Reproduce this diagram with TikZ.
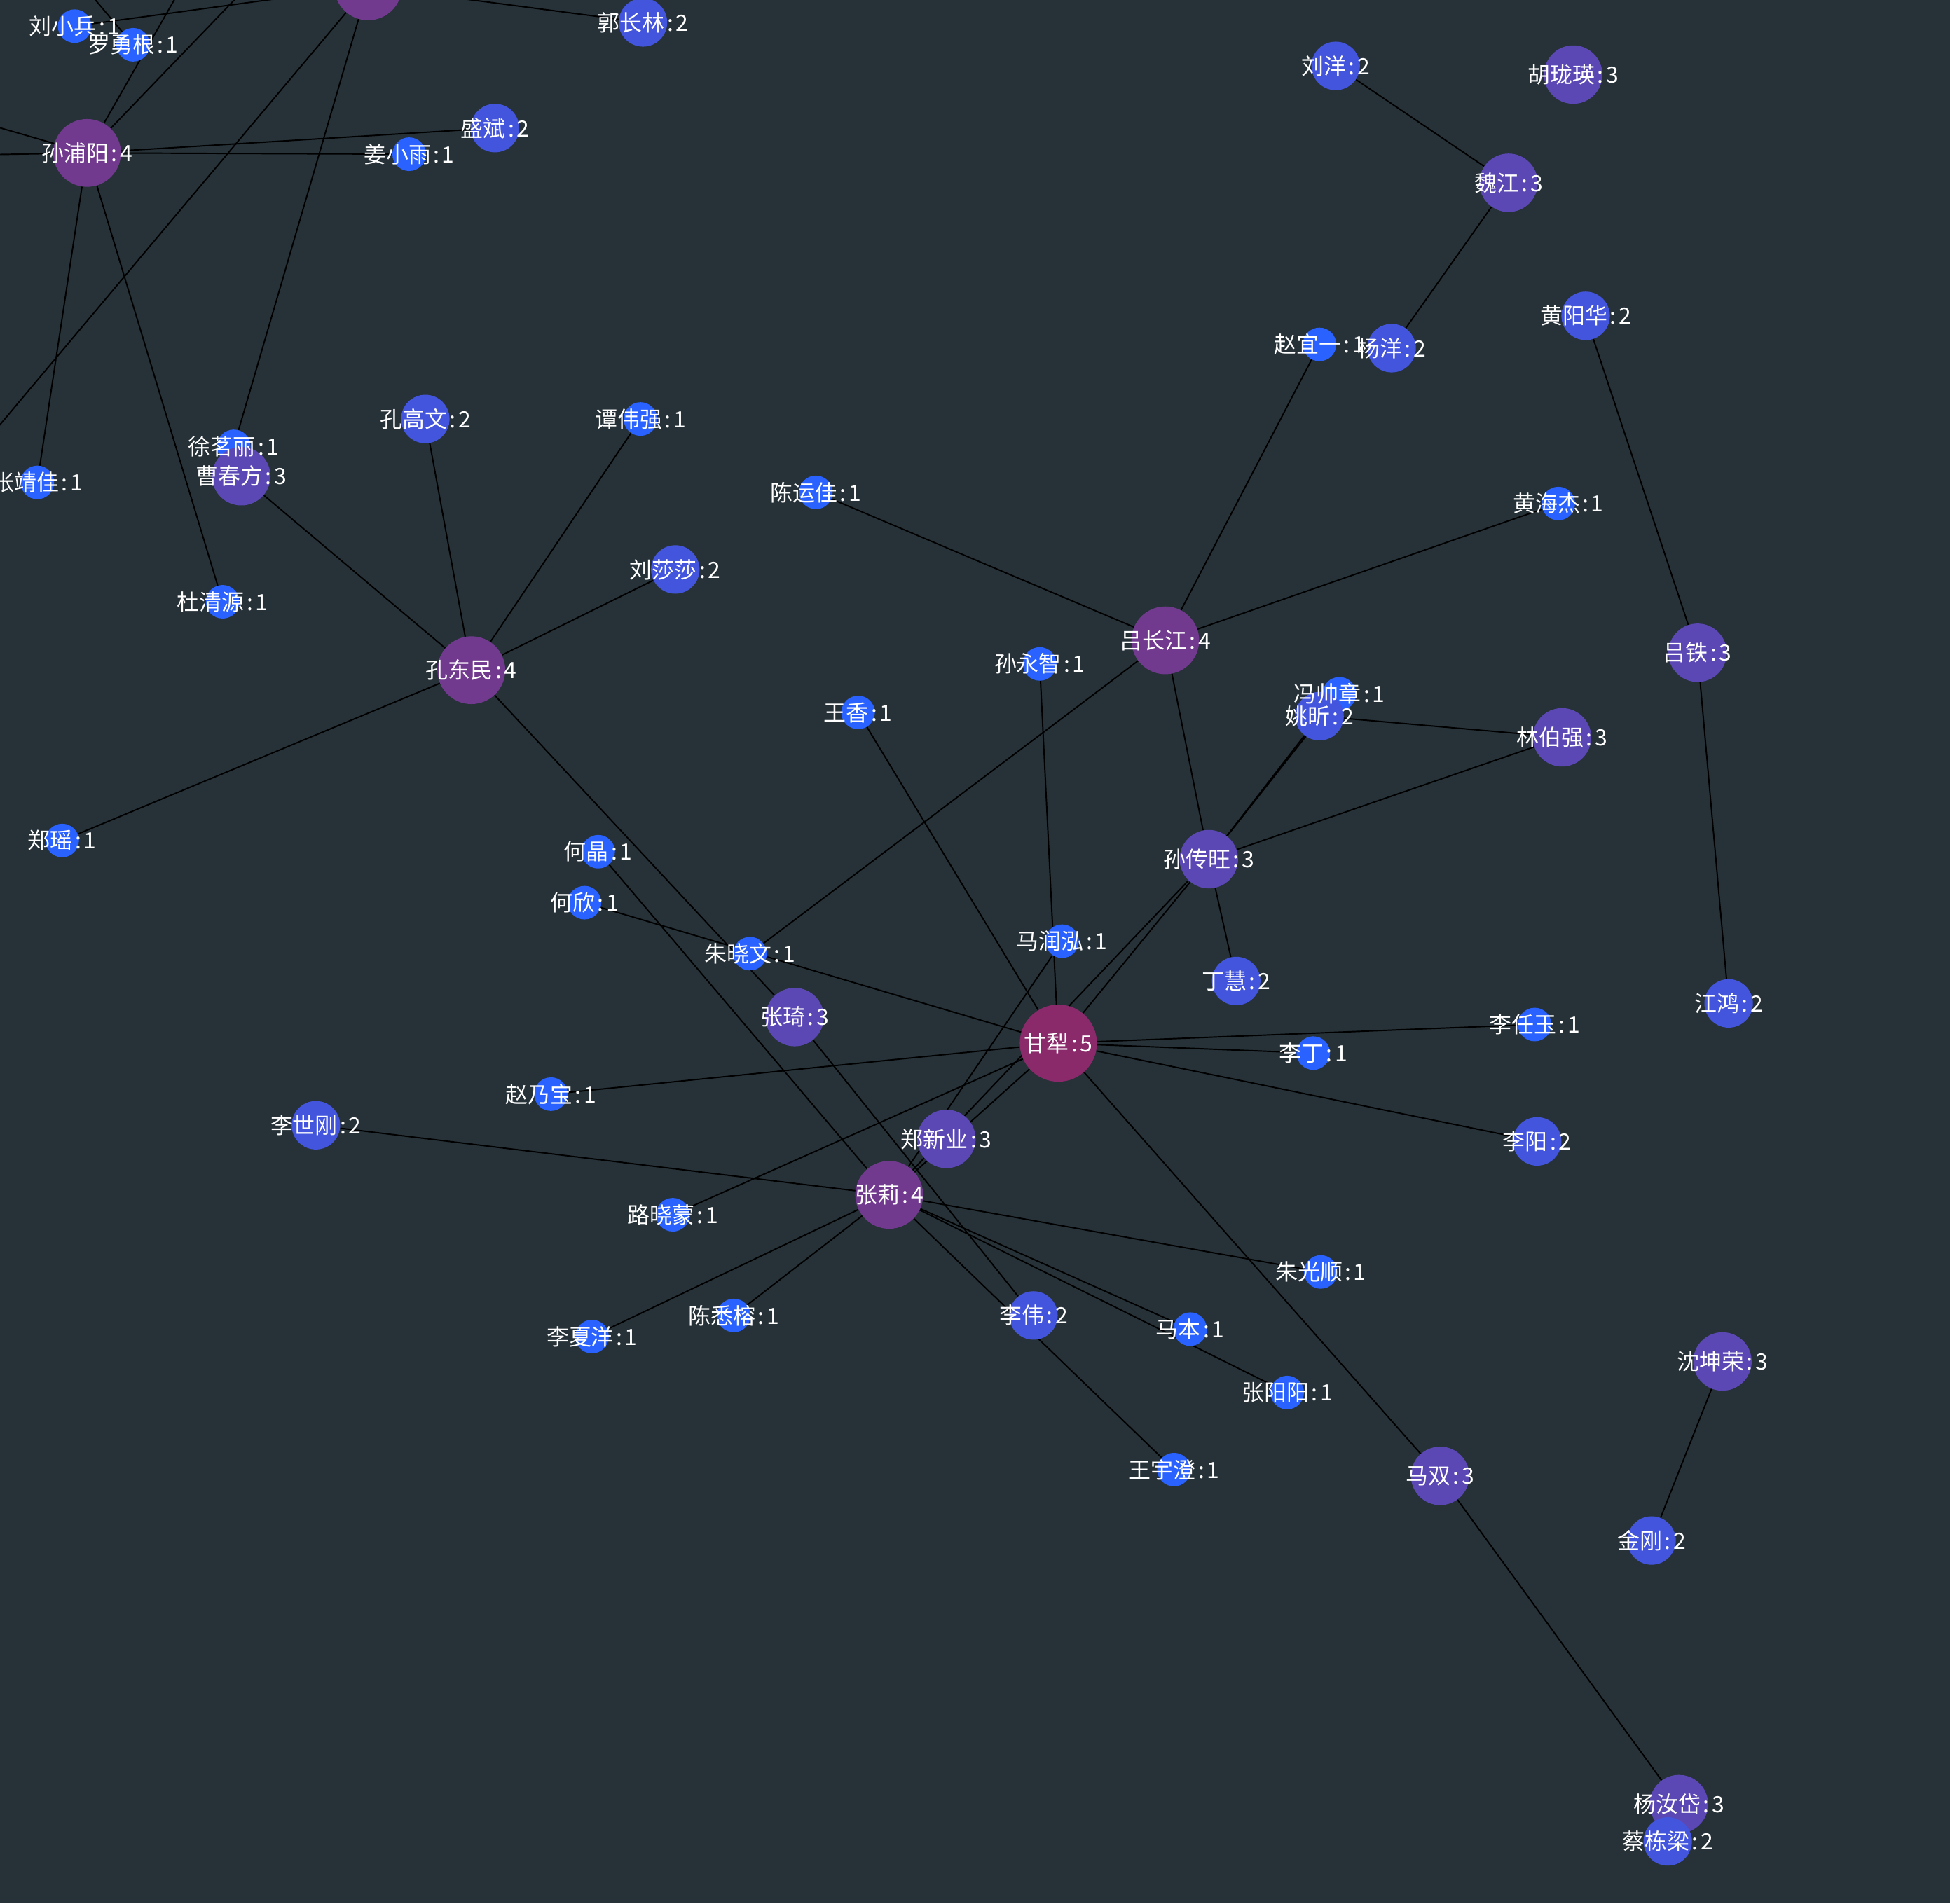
\documentclass[tikz,border=0pt]{standalone}
\usepackage{fontspec}
\newfontfamily\cjk{Noto Sans CJK SC}
\usepackage{tikz}
\definecolor{bgc}{HTML}{263238}
\definecolor{cone}{HTML}{2962FF}
\definecolor{ctwo}{HTML}{4355DD}
\definecolor{cthree}{HTML}{5B48B5}
\definecolor{cfour}{HTML}{723A8F}
\definecolor{cfive}{HTML}{8A2A6B}
\pgfdeclarelayer{bglayer}
\pgfdeclarelayer{edgelayer}
\pgfdeclarelayer{taglayer}
\pgfsetlayers{bglayer,edgelayer,main,taglayer}

\begin{document}
\begin{tikzpicture}[x=1pt,y=-1pt,
  conn/.style={line width=1.1pt,black},
  lvone/.style={circle,fill=cone,minimum size=27pt,inner sep=0pt},
  lvtwo/.style={circle,fill=ctwo,minimum size=39pt,inner sep=0pt},
  lvthree/.style={circle,fill=cthree,minimum size=47pt,inner sep=0pt},
  lvfour/.style={circle,fill=cfour,minimum size=54.5pt,inner sep=0pt},
  lvfive/.style={circle,fill=cfive,minimum size=62pt,inner sep=0pt},
  tag/.style={text=white,inner sep=0pt,font=\cjk\fontsize{18}{18}\selectfont}]
	\useasboundingbox (0,0) rectangle (1568,1531);
	\begin{pgfonlayer}{bglayer}
		\fill[bgc] (0,0) rectangle (1568,1531);
	\end{pgfonlayer}

	% people
	\node[lvfour] (top) at (296,-11) {};
	\foreach \id/\x/\y/\lv/\nm/\num in {
		liuxb/60/21/lvone/刘小兵/1, luoyg/107/36/lvone/罗勇根/1,
		sunpy/70/123/lvfour/孙浦阳/4, guocl/517/18/lvtwo/郭长林/2,
		shengb/398/103/lvtwo/盛斌/2, jiangxy/329/124/lvone/姜小雨/1,
		konggw/342/337/lvtwo/孔高文/2, tanwq/515/337/lvone/谭伟强/1,
		xuml/188/359/lvone/徐茗丽/1, caocf/194/383/lvthree/曹春方/3,
		zhangjj/30/388/lvone/张靖佳/1, duqy/179/484/lvone/杜清源/1,
		kongdm/379/539/lvfour/孔东民/4, liuss/543/458/lvtwo/刘莎莎/2,
		zhengy/50/676/lvone/郑瑶/1, chenyj/656/396/lvone/陈运佳/1,
		lvcj/937/515/lvfour/吕长江/4, huanghj/1253/405/lvone/黄海杰/1,
		zhaoyy/1061/277/lvone/赵宜一/1, yangy/1119/280/lvtwo/杨洋/2,
		weij/1213/147/lvthree/魏江/3, liuyang/1074/53/lvtwo/刘洋/2,
		hully/1265/60/lvthree/胡珑瑛/3, huangyh/1275/254/lvtwo/黄阳华/2,
		lvtie/1365/525/lvthree/吕铁/3, jiangh/1390/807/lvtwo/江鸿/2,
		sunyz/836/534/lvone/孙永智/1, wangx/690/573/lvone/王香/1,
		fengsz/1077/558/lvone/冯帅章/1, yaox/1061/576/lvtwo/姚昕/2,
		linbq/1256/593/lvthree/林伯强/3, sunchw/972/691/lvthree/孙传旺/3,
		hej/481/685/lvone/何晶/1, hex/470/726/lvone/何欣/1,
		zhuxw/603/767/lvone/朱晓文/1, marh/854/757/lvone/马润泓/1,
		dingh/994/789/lvtwo/丁慧/2, zhangq/639/818/lvthree/张琦/3,
		ganl/851/839/lvfive/甘犁/5, lirenyu/1234/824/lvone/李任玉/1,
		liding/1056/847/lvone/李丁/1, zhaonb/443/880/lvone/赵乃宝/1,
		lishig/254/905/lvtwo/李世刚/2, zhengxy/761/916/lvthree/郑新业/3,
		liyang/1236/918/lvtwo/李阳/2, zhangl/715/961/lvfour/张莉/4,
		luxm/541/977/lvone/路晓蒙/1, zhugs/1062/1023/lvone/朱光顺/1,
		chenxr/590/1058/lvone/陈悉榕/1, lixiay/476/1075/lvone/李夏洋/1,
		liw/831/1058/lvtwo/李伟/2, maben/957/1069/lvone/马本/1,
		zhangyy/1035/1120/lvone/张阳阳/1, wangyc/944/1182/lvone/王宇澄/1,
		mash/1158/1187/lvthree/马双/3, shenkr/1385/1095/lvthree/沈坤荣/3,
		jing/1328/1239/lvtwo/金刚/2, yangrd/1350/1451/lvthree/杨汝岱/3,
		caidl/1341/1481/lvtwo/蔡栋梁/2}{
		\node[\lv] (\id) at (\x,\y) {};
		\begin{pgfonlayer}{taglayer}
			\node[tag] at (\x,\y) {\nm\hspace{2pt}:\hspace{2pt}\num};
		\end{pgfonlayer}
	}

	% ends of links that leave the view
	\coordinate (offa) at (-100,74);
	\coordinate (offb) at (-100,126);
	\coordinate (offc) at (160,-35);
	\coordinate (offd) at (222,-35);
	\coordinate (offe) at (60,-20);
	\coordinate (offf) at (-60,413);

	\begin{pgfonlayer}{edgelayer}
		\foreach \a/\b in {sunpy/offa, sunpy/offb, sunpy/offc, sunpy/offd,
			sunpy/shengb, sunpy/jiangxy, sunpy/zhangjj, sunpy/duqy,
			luoyg/offe, liuxb/top, top/guocl, top/xuml, top/offf,
			kongdm/caocf, kongdm/konggw, kongdm/tanwq, kongdm/liuss,
			kongdm/zhengy, kongdm/zhangq, hej/zhangl, hex/ganl, wangx/ganl,
			sunyz/ganl, lvcj/zhuxw, lvcj/chenyj, lvcj/huanghj, lvcj/zhaoyy,
			lvcj/sunchw, sunchw/yaox, sunchw/fengsz, sunchw/linbq, yaox/linbq,
			sunchw/dingh, sunchw/ganl, sunchw/zhangl, ganl/zhangl, marh/zhangl,
			ganl/luxm, ganl/zhaonb, ganl/lirenyu, ganl/liding, ganl/liyang,
			ganl/mash, zhangq/liw, zhangl/lishig, zhangl/chenxr, zhangl/lixiay,
			zhangl/wangyc, zhangl/maben, zhangl/zhangyy, zhangl/zhugs,
			mash/yangrd, liuyang/weij, weij/yangy, huangyh/lvtie,
			lvtie/jiangh, shenkr/jing}
			\draw[conn] (\a) -- (\b);
	\end{pgfonlayer}
\end{tikzpicture}
\end{document}
